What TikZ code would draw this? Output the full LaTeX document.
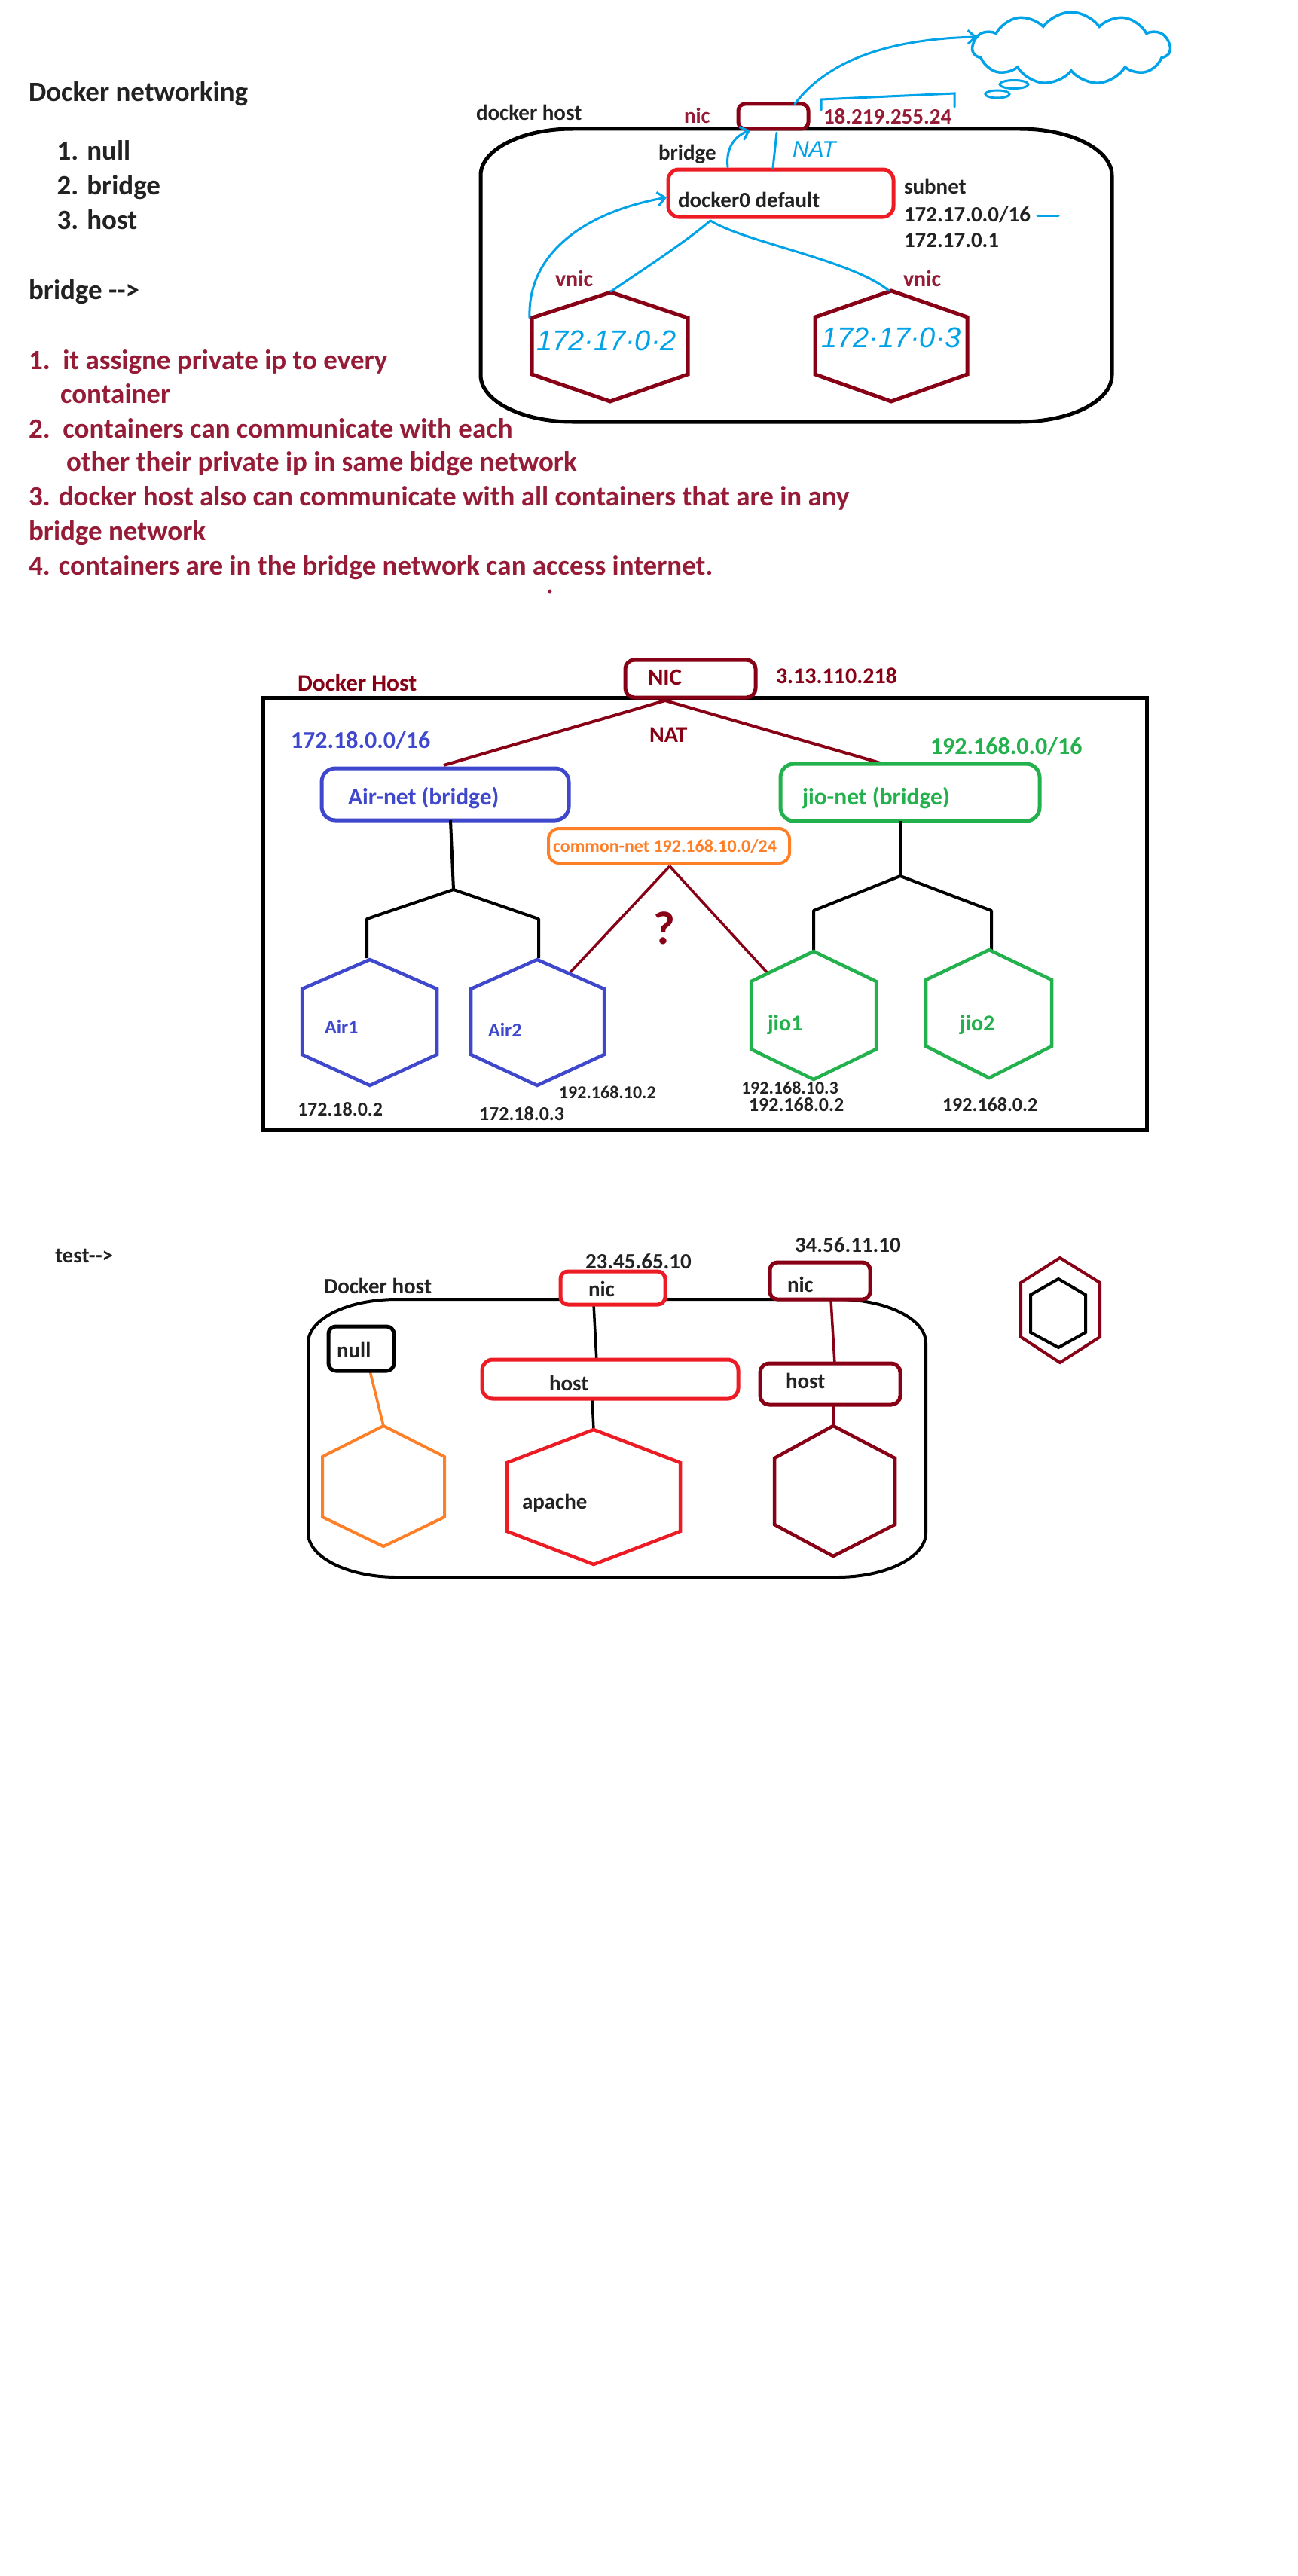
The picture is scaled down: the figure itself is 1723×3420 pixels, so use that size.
\documentclass[tikz,border=0pt]{standalone}
\usepackage{fontspec}
\setmainfont{Carlito}
\newfontfamily\handfont{Liberation Sans}
\usetikzlibrary{shapes.symbols,arrows.meta}
\definecolor{dred}{HTML}{880015}
\definecolor{tred}{HTML}{951B36}
\definecolor{bred}{HTML}{ED1C24}
\definecolor{pblue}{HTML}{3F48CC}
\definecolor{pgreen}{HTML}{22B14C}
\definecolor{porange}{HTML}{FF7F27}
\definecolor{pcyan}{HTML}{00A2E8}
\definecolor{ink}{HTML}{222222}
\newcommand\fsz[1]{\fontsize{#1}{#1}\selectfont}
\newcommand\dasharrow{-\kern0pt-\kern0pt>}
\begin{document}
\begin{tikzpicture}[x=1pt,y=-1pt,
  txt/.style={anchor=base west,inner sep=0pt,outer sep=0pt,font={\fsz{#1}\bfseries}},
  hand/.style={anchor=base west,inner sep=0pt,outer sep=0pt,text=pcyan,font={\fsz{#1}\handfont\itshape}},
  rbox/.style={draw=#1,fill=white,line width=5pt,rounded corners=10pt,inner sep=0pt,outer sep=0pt},
  hexs/.style={draw=#1,line width=5pt,line join=miter},
  conn/.style={draw=#1,line width=4pt},
  bl/.style={draw=pcyan,line width=3pt,line cap=round},
  barb/.style={-{Straight Barb[length=10pt,width=18pt,line width=3pt]}}
]
\fill[white] (0,0) rectangle (1723,3420);
\path[use as bounding box] (0,0) rectangle (1723,3420);

% ---------------- Section 1 text ----------------
\node[txt=37,text=ink] (t1) at (38,135) {Docker networking};
\node[txt=37,text=ink] (t2) at (75.5,213) {1. null};
\node[txt=37,text=ink] (t3) at (75.5,258) {2. bridge};
\node[txt=37,text=ink] (t4) at (75.5,304) {3. host};
\node[txt=37,text=ink] (t5) at (38,397) {bridge \dasharrow};
\node[txt=37,text=tred] (r1) at (38,490) {1.~~it assigne private ip to every};
\node[txt=37,text=tred] (r2) at (80,535) {container};
\node[txt=37,text=tred] (r3) at (38,581) {2.~~containers can communicate with each};
\node[txt=37,text=tred] (r4) at (88,625) {other their private ip in same bidge network};
\node[txt=37,text=tred] (r5) at (38,671) {3. docker host also can communicate with all containers that are in any};
\node[txt=37,text=tred] (r6) at (38,717) {bridge network};
\node[txt=37,text=tred] (r7) at (38,763) {4. containers are in the bridge network can access internet.};
\fill[tred] (730,785) circle[radius=2.5];

% ---------------- Section 1 diagram ----------------
\draw[line width=5pt] (760,171) -- (1354,171)
  arc[start angle=270,end angle=360,x radius=122,y radius=62] -- (1476,498)
  arc[start angle=0,end angle=90,x radius=122,y radius=62] -- (760,560)
  arc[start angle=90,end angle=180,x radius=122,y radius=62] -- (638,233)
  arc[start angle=180,end angle=270,x radius=122,y radius=62] -- cycle;
\node[txt=29,text=ink] (dh1) at (632,160) {docker host};
\node[rbox=dred,minimum width=93,minimum height=33,rounded corners=9pt] (nic1) at (1026.5,154.5) {};
\node[txt=29,text=tred] (nic1l) at (908,164) {nic};
\node[txt=29,text=tred] (ip1) at (1093,165) {18.219.255.24};
\node[rbox=bred,minimum width=299,minimum height=63,rounded corners=14pt] (d0) at (1036.5,256.5) {};
\node[txt=29,text=ink] (d0l) at (900,275) {docker0 default};
\node[txt=29,text=ink] (brl) at (874,213) {bridge};
\node[txt=29,text=ink] (sn1) at (1200,257) {subnet};
\node[txt=29,text=ink] (sn2) at (1200,294) {172.17.0.0/16};
\node[txt=29,text=ink] (sn3) at (1200,328) {172.17.0.1};
\node[txt=30,text=tred] (vn1) at (737,380) {vnic};
\node[txt=30,text=tred] (vn2) at (1199,380) {vnic};
\draw[hexs=dred] (811,388) -- (913,422) -- (913,497) -- (810,533) -- (706,497) -- (706,422) -- cycle;
\draw[hexs=dred] (1183,386) -- (1284,421) -- (1284,497) -- (1183,533) -- (1082,497) -- (1082,421) -- cycle;
\coordinate (h1top) at (811,387);
\coordinate (h1ul) at (703,422);
\coordinate (h2top) at (1180,386);
\node[hand=38] (h1l) at (712,465) {172·17·0·2};
\node[hand=38] (h2l) at (1090,461) {172·17·0·3};
\node[hand=30] (natl) at (1052,208) {NAT};
% blue strokes
\coordinate (d0b) at (943,293);
\coordinate (d0left) at (885,262);
\coordinate (d0top1) at (966,222);
\coordinate (d0top2) at (1026,223);
\coordinate (nicb1) at (996,173);
\coordinate (nicb2) at (1031,176);
\coordinate (nict) at (1055,138);
\coordinate (cloudin) at (1297,49);
\draw[bl,barb] (h1ul) .. controls (700,340) and (770,283) .. (d0left);
\draw[bl] (d0b) .. controls (905,325) and (850,360) .. (h1top);
\draw[bl] (d0b) .. controls (990,322) and (1130,345) .. (h2top);
\draw[bl,barb] (d0top1) .. controls (963,196) and (976,180) .. (nicb1);
\draw[bl] (d0top2) -- (nicb2);
\draw[bl,barb] (nict) .. controls (1095,85) and (1170,52) .. (cloudin);
\draw[bl] (1090,146) -- (1090,132) -- (1267,124) -- (1267,142);
\draw[bl] (1377,286) -- (1405,286);
\node[cloud,cloud puffs=11,cloud puff arc=110,aspect=2.6,draw=pcyan,line width=3.5pt,
      minimum width=262,minimum height=96,inner sep=0pt] (cloud) at (1422,64) {};
\draw[bl] (1346,112) ellipse[x radius=19,y radius=5.5];
\draw[bl] (1324,125) ellipse[x radius=16,y radius=5];

% ---------------- Section 2 ----------------
\node[draw=black,line width=5pt,minimum width=1173,minimum height=574,inner sep=0pt] (host2) at (935.5,1213) {};
\coordinate (nat0) at (883,930);
\coordinate (airtop) at (589,1016);
\coordinate (jiotop) at (1172,1014);
\draw[conn=dred] (nat0) -- (airtop);
\draw[conn=dred] (nat0) -- (jiotop);
\node[rbox=dred,minimum width=173,minimum height=50,rounded corners=12pt] (NIC) at (916.5,901) {};
\node[txt=31,text=dred] (NICl) at (860,909) {NIC};
\node[txt=30,text=dred] (ip2) at (1030,907) {3.13.110.218};
\node[txt=31.5,text=dred] (dh2) at (395,917) {Docker Host};
\node[txt=30,text=dred] (nat2) at (862,985) {NAT};
\node[txt=32,text=pblue] (sub1) at (386,993) {172.18.0.0/16};
\node[txt=32,text=pgreen] (sub2) at (1235,1001) {192.168.0.0/16};
\node[rbox=pblue,minimum width=328,minimum height=69,rounded corners=18pt] (airnet) at (591,1054.5) {};
\node[rbox=pgreen,minimum width=344,minimum height=76,rounded corners=18pt] (jionet) at (1208,1052) {};
\node[rbox=porange,line width=4pt,minimum width=320,minimum height=46,rounded corners=14pt] (cnet) at (888,1123) {};
\node[txt=31.5,text=pblue] (airl) at (462,1068) {Air-net (bridge)};
\node[txt=31.5,text=pgreen] (jiol) at (1065,1068) {jio-net (bridge)};
\node[txt=24,text=porange] (cnl) at (734,1131) {common-net 192.168.10.0/24};
% trees
\coordinate (airb) at (598,1089);
\coordinate (airj) at (602,1181);
\coordinate (a1top) at (491,1274);
\coordinate (a2top) at (713,1274);
\draw[conn=black] (airb) -- (airj);
\draw[conn=black,line join=round] (airj) -- (487,1220) -- (487,1272);
\draw[conn=black,line join=round] (airj) -- (715,1220) -- (715,1272);
\coordinate (jiob) at (1195,1090);
\coordinate (jioj) at (1195,1163);
\draw[conn=black] (jiob) -- (jioj);
\draw[conn=black,line join=round] (jioj) -- (1080,1209) -- (1080,1262);
\draw[conn=black,line join=round] (jioj) -- (1316,1209) -- (1316,1261);
\coordinate (cnb) at (889,1150);
\coordinate (air2c) at (756,1292);
\coordinate (jio1c) at (1019,1292);
\draw[conn=dred,line width=3.5pt] (cnb) -- (air2c);
\draw[conn=dred,line width=3.5pt] (cnb) -- (jio1c);
\draw[hexs=pblue,line width=4.5pt] (491,1274) -- (580,1313) -- (580,1400) -- (491,1441) -- (401,1400) -- (401,1313) -- cycle;
\draw[hexs=pblue,line width=4.5pt] (713,1274) -- (802,1313) -- (802,1400) -- (713,1441) -- (625,1400) -- (625,1313) -- cycle;
\draw[hexs=pgreen,line width=4.5pt] (1080,1263) -- (1163,1303) -- (1163,1393) -- (1080,1433) -- (997,1393) -- (997,1303) -- cycle;
\draw[hexs=pgreen,line width=4.5pt] (1313,1261) -- (1396,1301) -- (1396,1389) -- (1313,1431) -- (1229,1389) -- (1229,1301) -- cycle;
\node[txt=26,text=pblue] (a1l) at (431,1372) {Air1};
\node[txt=26,text=pblue] (a2l) at (648,1376) {Air2};
\node[txt=30,text=pgreen] (j1l) at (1019,1368) {jio1};
\node[txt=30,text=pgreen] (j2l) at (1274,1368) {jio2};
\node[txt=62,text=dred] (qm) at (867,1253) {?};
\node[txt=26,text=ink] (ipa1) at (395,1481) {172.18.0.2};
\node[txt=26,text=ink] (ipa2) at (636,1487) {172.18.0.3};
\node[txt=24,text=ink] (ipa3) at (742,1458) {192.168.10.2};
\node[txt=24,text=ink] (ipj1) at (984,1452) {192.168.10.3};
\node[txt=26,text=ink] (ipj2) at (994,1475) {192.168.0.2};
\node[txt=26,text=ink] (ipj3) at (1251,1475) {192.168.0.2};

% ---------------- Section 3 ----------------
\node[txt=29,text=ink] (test) at (73,1676) {test\dasharrow};
\draw[line width=4pt] (527,1725) -- (1111,1725)
  arc[start angle=270,end angle=360,x radius=118,y radius=58] -- (1229,2035)
  arc[start angle=0,end angle=90,x radius=118,y radius=59] -- (527,2094)
  arc[start angle=90,end angle=180,x radius=118,y radius=59] -- (409,1783)
  arc[start angle=180,end angle=270,x radius=118,y radius=58] -- cycle;
\node[txt=29,text=ink] (dh3) at (430,1717) {Docker host};
\coordinate (n1b) at (788,1731);
\coordinate (h1t) at (792,1808);
\coordinate (h1b) at (786,1857);
\coordinate (apt) at (788,1898);
\coordinate (n2b) at (1103,1726);
\coordinate (h2t) at (1108,1810);
\coordinate (h2b) at (1106,1865);
\coordinate (x2t) at (1106,1893);
\coordinate (nub) at (490,1816);
\coordinate (ort) at (509,1893);
\draw[conn=black,line width=3.5pt] (n1b) -- (h1t);
\draw[conn=black,line width=3.5pt] (h1b) -- (apt);
\draw[conn=dred,line width=3.5pt] (n2b) -- (h2t);
\draw[conn=dred,line width=3.5pt] (h2b) -- (x2t);
\draw[conn=porange,line width=3.5pt] (nub) -- (ort);
\node[rbox=bred,minimum width=139,minimum height=44] (nic3a) at (813.5,1710) {};
\node[rbox=dred,minimum width=133,minimum height=49] (nic3b) at (1088.5,1700.5) {};
\node[rbox=black,minimum width=87,minimum height=59] (nullb) at (479.5,1790.5) {};
\node[rbox=bred,minimum width=340,minimum height=52,rounded corners=14pt] (hostA) at (810,1831) {};
\node[rbox=dred,minimum width=186,minimum height=55,rounded corners=12pt] (hostB) at (1102,1837.5) {};
\node[txt=29,text=ink] (ip3a) at (777,1684) {23.45.65.10};
\node[txt=29,text=ink] (ip3b) at (1055,1662) {34.56.11.10};
\node[txt=29,text=ink] (nic3al) at (781,1721) {nic};
\node[txt=29,text=ink] (nic3bl) at (1045,1715) {nic};
\node[txt=29,text=ink] (nulll) at (447,1802) {null};
\node[txt=29,text=ink] (hostAl) at (729,1846) {host};
\node[txt=29,text=ink] (hostBl) at (1043,1843) {host};
\draw[hexs=porange,line width=4pt] (509,1893) -- (590,1934) -- (590,2014) -- (509,2053) -- (428,2014) -- (428,1934) -- cycle;
\draw[hexs=bred,line width=4.5pt] (788,1898) -- (903,1942) -- (903,2033) -- (788,2077) -- (673,2033) -- (673,1942) -- cycle;
\draw[hexs=dred,line width=4.5pt] (1106,1893) -- (1188,1936) -- (1188,2024) -- (1106,2066) -- (1028,2024) -- (1028,1936) -- cycle;
\node[txt=29,text=ink] (apl) at (693,2003) {apache};
% icon
\draw[hexs=dred,line width=4pt] (1407,1670) -- (1460,1703) -- (1460,1775) -- (1407,1809) -- (1355,1775) -- (1355,1703) -- cycle;
\draw[hexs=black,line width=4pt] (1405,1698) -- (1441,1719) -- (1441,1769) -- (1405,1789) -- (1368,1769) -- (1368,1719) -- cycle;
\end{tikzpicture}
\end{document}
